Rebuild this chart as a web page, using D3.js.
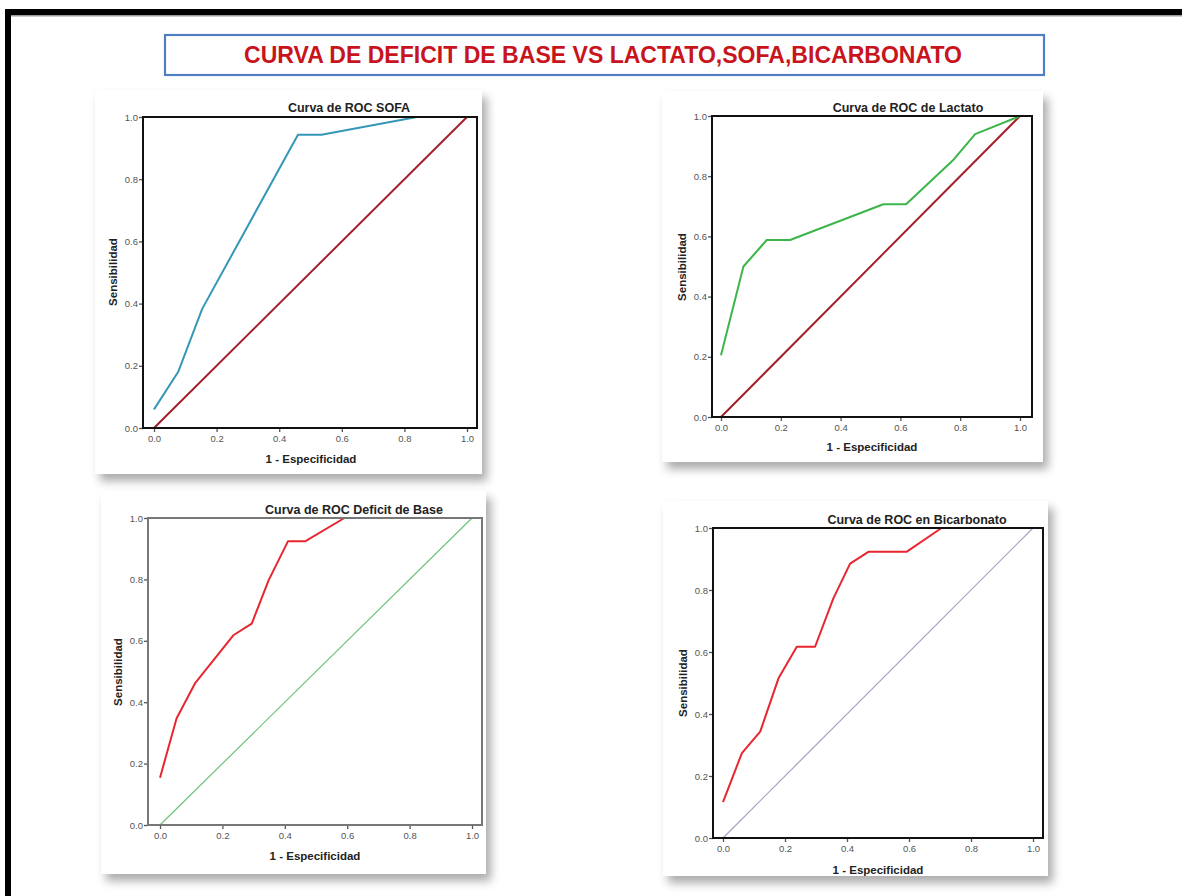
<!DOCTYPE html>
<html><head><meta charset="utf-8">
<script src="https://cdn.jsdelivr.net/npm/d3@7"></script>
<style>body{margin:0;background:#fff;}svg{display:block;}</style>
</head><body>
<svg id="c" width="1182" height="896"></svg>
<script>
const mainTitle = "CURVA DE DEFICIT DE BASE VS LACTATO,SOFA,BICARBONATO";
const tickValues = [0.0, 0.2, 0.4, 0.6, 0.8, 1.0];
const xAxisLabel = "1 - Especificidad";
const yAxisLabel = "Sensibilidad";
const panelTitles = ["Curva de ROC SOFA", "Curva de ROC de Lactato", "Curva de ROC Deficit de Base", "Curva de ROC en Bicarbonato"];

// ROC curves: [1 - especificidad, sensibilidad]
const sofaROC = [[0,0.06],[0.077,0.18],[0.154,0.383],[0.46,0.943],[0.535,0.943],[0.84,1.0],[1,1]];
const lactatoROC = [[0,0.205],[0.075,0.5],[0.153,0.588],[0.231,0.588],[0.543,0.707],[0.619,0.707],[0.775,0.852],[0.85,0.94],[1,1]];
const deficitROC = [[0,0.154],[0.053,0.347],[0.112,0.461],[0.235,0.618],[0.294,0.656],[0.348,0.797],[0.41,0.924],[0.465,0.924],[0.591,1.0],[1,1]];
const bicarbROC = [[0,0.116],[0.061,0.274],[0.12,0.343],[0.179,0.515],[0.238,0.617],[0.297,0.617],[0.356,0.773],[0.41,0.885],[0.469,0.923],[0.592,0.923],[0.705,1.0],[1,1]];
const referenceLine = [[0,0],[1,1]];

const svg = d3.select("#c");
const defs = svg.append("defs");
const f = defs.append("filter").attr("id","sh").attr("x","-10%").attr("y","-10%").attr("width","125%").attr("height","125%");
f.append("feDropShadow").attr("dx",5).attr("dy",7).attr("stdDeviation",5).attr("flood-color","#000").attr("flood-opacity",0.33);

// outer frame
svg.append("rect").attr("x",5).attr("y",9).attr("width",1177).attr("height",6).attr("fill","#000");
svg.append("rect").attr("x",5).attr("y",15).attr("width",1177).attr("height",1.5).attr("fill","#999");
svg.append("rect").attr("x",5).attr("y",9).attr("width",6).attr("height",887).attr("fill","#000");

// title box
svg.append("rect").attr("x",165).attr("y",35).attr("width",879).attr("height",40)
  .attr("fill","#fff").attr("stroke","#4f7fc0").attr("stroke-width",2.2);
svg.append("text").attr("x",603).attr("y",63).attr("text-anchor","middle")
  .attr("font-family","'Liberation Sans Narrow','Arial Narrow','Liberation Sans',sans-serif")
  .attr("font-weight","bold").attr("font-size",23).attr("fill","#c8141c")
  .attr("textLength",718).attr("lengthAdjust","spacingAndGlyphs")
  .text(mainTitle);

const panels = [
  {data:sofaROC, title:panelTitles[0], color:"#3597b8", cw:2, ref:"#a3202a", rw:2, frame:"#111",
   card:[95,90,482,474], fr:[143,477,117,428], x01:[154,467], tx:349, ty:112, ylx:117, yly:272, xlx:311, xly:463},
  {data:lactatoROC, title:panelTitles[1], color:"#3cb54a", cw:2, ref:"#a3202a", rw:2, frame:"#111",
   card:[662,91,1043,462], fr:[712,1032,116,417], x01:[721,1020], tx:908, ty:112, ylx:686, yly:267, xlx:872, xly:451},
  {data:deficitROC, title:panelTitles[2], color:"#e8262f", cw:2, ref:"#6cc27a", rw:1.2, frame:"#777",
   card:[101,491,486,874], fr:[148,482,518,825], x01:[160,472], tx:354, ty:514, ylx:122, yly:672, xlx:315, xly:860},
  {data:bicarbROC, title:panelTitles[3], color:"#e8262f", cw:2, ref:"#a89dc6", rw:1.2, frame:"#111",
   card:[663,501,1048,876], fr:[713,1043,528,838], x01:[723,1033], tx:917, ty:524, ylx:687, yly:683, xlx:878, xly:874}
];

const fmt = d3.format(".1f");
panels.forEach(p => {
  const g = svg.append("g");
  g.append("rect").attr("x",p.card[0]).attr("y",p.card[1])
    .attr("width",p.card[2]-p.card[0]).attr("height",p.card[3]-p.card[1])
    .attr("fill","#fff").attr("filter","url(#sh)");
  const x = d3.scaleLinear().domain([0,1]).range(p.x01);
  const y = d3.scaleLinear().domain([0,1]).range([p.fr[3], p.fr[2]]);
  const [L,R,T,B] = p.fr;

  const yAxis = d3.axisLeft(y).tickValues(tickValues).tickFormat(fmt).tickSize(4).tickPadding(1);
  const yg = g.append("g").attr("transform",`translate(${L},0)`).call(yAxis);
  const xAxis = d3.axisBottom(x).tickValues(tickValues).tickFormat(fmt).tickSize(4).tickPadding(3);
  const xg = g.append("g").attr("transform",`translate(0,${B})`).call(xAxis);
  [yg,xg].forEach(a => {
    a.select(".domain").remove();
    a.selectAll(".tick line").attr("stroke","#555").attr("stroke-width",1.3);
    a.selectAll(".tick text").attr("fill","#555").attr("font-size",9.5)
      .attr("font-family","'Liberation Sans',Arial,sans-serif");
  });

  const line = d3.line().x(d=>x(d[0])).y(d=>y(d[1]));
  g.append("path").datum(referenceLine).attr("d",line).attr("fill","none")
    .attr("stroke",p.ref).attr("stroke-width",p.rw);
  g.append("path").datum(p.data).attr("d",line).attr("fill","none")
    .attr("stroke",p.color).attr("stroke-width",p.cw).attr("stroke-linejoin","round");

  g.append("rect").attr("x",L).attr("y",T).attr("width",R-L).attr("height",B-T)
    .attr("fill","none").attr("stroke",p.frame).attr("stroke-width",2);

  g.append("text").attr("x",p.tx).attr("y",p.ty).attr("text-anchor","middle")
    .attr("font-family","'Liberation Sans',Arial,sans-serif").attr("font-weight","bold")
    .attr("font-size",12.5).attr("fill","#222").text(p.title);
  g.append("text").attr("x",p.xlx).attr("y",p.xly).attr("text-anchor","middle")
    .attr("font-family","'Liberation Sans',Arial,sans-serif").attr("font-weight","bold")
    .attr("font-size",11.5).attr("fill","#222").text(xAxisLabel);
  g.append("text").attr("transform",`translate(${p.ylx},${p.yly}) rotate(-90)`).attr("text-anchor","middle")
    .attr("font-family","'Liberation Sans',Arial,sans-serif").attr("font-weight","bold")
    .attr("font-size",11.5).attr("fill","#222").text(yAxisLabel);
});
</script>
</body></html>
